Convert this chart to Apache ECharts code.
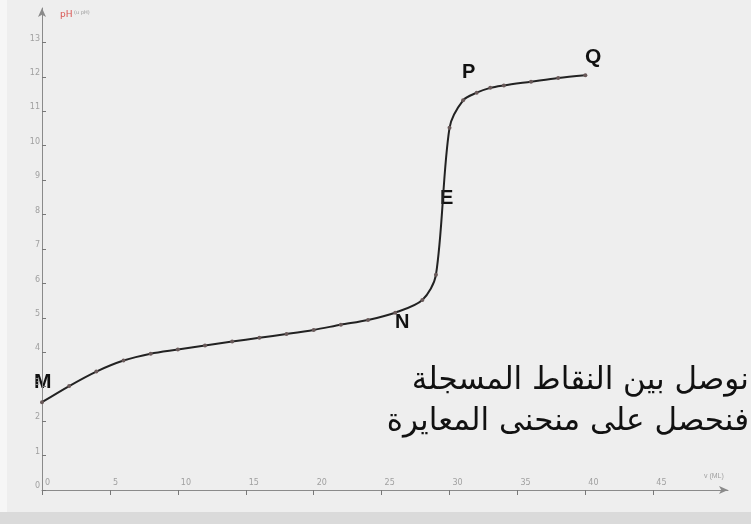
<!DOCTYPE html>
<html>
<head>
<meta charset="utf-8">
<title>منحنى المعايرة</title>
<script src="https://cdn.jsdelivr.net/npm/echarts@6/dist/echarts.min.js"></script>
<style>
  html, body { margin: 0; padding: 0; background: #eeeeee; }
  #chart { width: 751px; height: 524px; }
</style>
</head>
<body>
<div id="chart"></div>
<script>
// volume versé (mL) et pH mesuré
var volume = [0, 2, 4, 6, 8, 10, 12, 14, 16, 18, 20, 22, 24, 26, 28, 29, 30, 31, 32, 33, 34, 36, 38, 40];
var ph = [2.55, 3.02, 3.44, 3.76, 3.96, 4.08, 4.2, 4.31, 4.42, 4.53, 4.65, 4.8, 4.94, 5.15, 5.52, 6.25, 10.52, 11.32, 11.54, 11.68, 11.75, 11.86, 11.97, 12.05];
var xTicks = [0, 5, 10, 15, 20, 25, 30, 35, 40, 45];
var yTicks = [0, 1, 2, 3, 4, 5, 6, 7, 8, 9, 10, 11, 12, 13];

var points = volume.map(function(v, i) { return [v, ph[i]]; });

var chart = echarts.init(document.getElementById('chart'));

var axisGray = '#8a8a8a';
var option = {
  backgroundColor: '#eeeeee',
  animation: false,
  grid: { left: 42, right: 23, top: 8, bottom: 34 },
  xAxis: {
    type: 'value',
    min: 0,
    max: 50.5,
    splitLine: { show: false },
    axisLine: { lineStyle: { color: axisGray, width: 1 }, symbol: ['none', 'arrow'], symbolSize: [6, 9] },
    axisTick: { customValues: xTicks, length: 5, lineStyle: { color: '#777' } },
    axisLabel: {
      customValues: xTicks,
      inside: true,
      margin: 3,
      align: 'left',
      padding: [0, 0, 0, 3],
      color: '#a0a0a0',
      fontSize: 8,
      fontFamily: 'DejaVu Sans'
    },
    name: 'v (ML)',
    nameLocation: 'end',
    nameGap: -24,
    nameTextStyle: { color: '#a0a0a0', fontSize: 7, verticalAlign: 'bottom', padding: [0, 0, 10, 0] }
  },
  yAxis: {
    type: 'value',
    min: 0,
    max: 14,
    splitLine: { show: false },
    axisLine: { show: true, lineStyle: { color: axisGray, width: 1 }, symbol: ['none', 'arrow'], symbolSize: [6, 9] },
    axisTick: { show: true, customValues: yTicks, length: 4, inside: true, lineStyle: { color: '#777' } },
    axisLabel: {
      customValues: yTicks,
      margin: 2,
      verticalAlign: 'bottom',
      color: '#a0a0a0',
      fontSize: 8,
      fontFamily: 'DejaVu Sans'
    }
  },
  graphic: [
    { type: 'rect', z: -1, shape: { x: 0, y: 512, width: 751, height: 12 }, style: { fill: '#dadada' } },
    { type: 'rect', z: -1, shape: { x: 0, y: 0, width: 7, height: 512 }, style: { fill: '#f6f6f6' } },
    { type: 'text', left: 60, top: 10, style: { text: 'pH', fill: '#d9534f', font: '9px "DejaVu Sans"' } },
    { type: 'text', left: 74, top: 10, style: { text: '(u pH)', fill: '#999', font: '5px "DejaVu Sans"' } },
    { type: 'text', left: 34, top: 372, style: { text: 'M', fill: '#111', font: 'bold 21px "Liberation Sans"' } },
    { type: 'text', left: 395, top: 312, style: { text: 'N', fill: '#111', font: 'bold 20px "Liberation Sans"' } },
    { type: 'text', left: 440, top: 188, style: { text: 'E', fill: '#111', font: 'bold 20px "Liberation Sans"' } },
    { type: 'text', left: 462, top: 62, style: { text: 'P', fill: '#111', font: 'bold 20px "Liberation Sans"' } },
    { type: 'text', left: 585, top: 47, style: { text: 'Q', fill: '#111', font: 'bold 21px "Liberation Sans"' } },
    { type: 'text', right: 2, top: 365, style: { text: 'نوصل بين النقاط المسجلة', fill: '#111', font: '31px "DejaVu Sans"', textAlign: 'right' } },
    { type: 'text', right: 2, top: 406, style: { text: 'فنحصل على منحنى المعايرة', fill: '#111', font: '31px "DejaVu Sans"', textAlign: 'right' } }
  ],
  series: [{
    type: 'line',
    data: points,
    smooth: 0.3,
    symbol: 'circle',
    symbolSize: 4,
    itemStyle: { color: '#6a5a5a' },
    lineStyle: { color: '#222', width: 2 }
  }]
};
chart.setOption(option);
</script>
</body>
</html>
